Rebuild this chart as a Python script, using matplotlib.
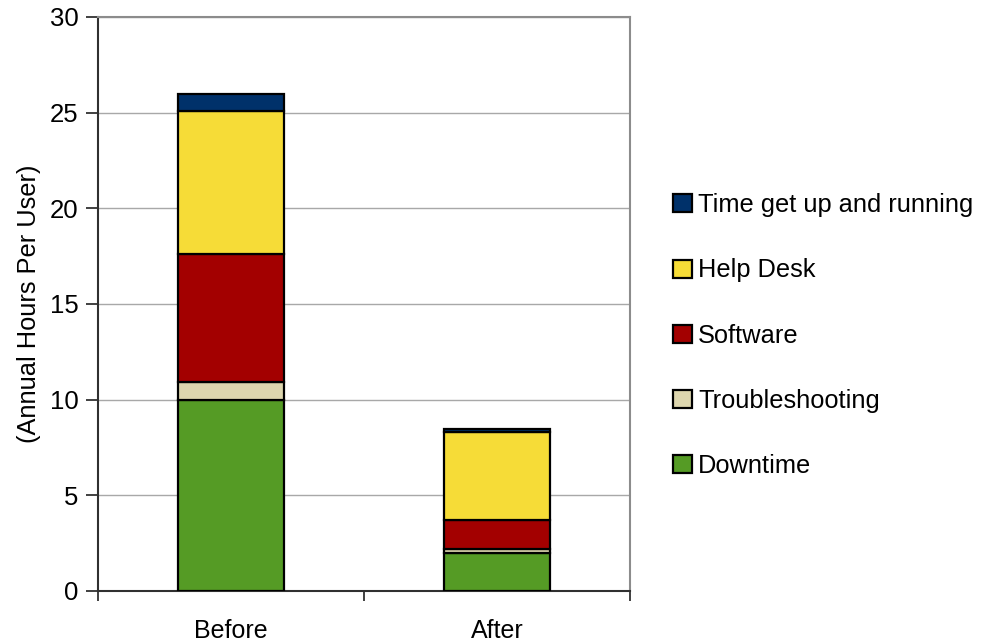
import matplotlib.pyplot as plt
import numpy as np

plt.rcParams["font.family"] = ["Liberation Sans", "DejaVu Sans"]

# stacked hours per user, bottom segment first
periods = ["Before", "After"]
series = ["Downtime", "Troubleshooting", "Software", "Help Desk", "Time get up and running"]
downtime = [10.0, 2.0]
troubleshooting = [0.9, 0.2]
software = [6.7, 1.5]
help_desk = [7.5, 4.6]
time_up = [0.9, 0.15]
colors = ["#559B25", "#DDD6AE", "#A30000", "#F6DC37", "#00316A"]

fig = plt.figure(figsize=(9.87, 6.43), dpi=100)
ax = fig.add_axes([0.0993, 0.081, 0.5390, 0.8926])

x = np.arange(len(periods))
bottom = np.zeros(len(periods))
handles = []
for name, vals, c in zip(series, [downtime, troubleshooting, software, help_desk, time_up], colors):
    b = ax.bar(x, vals, 0.4, bottom=bottom, color=c, edgecolor="black",
               linewidth=1.6, label=name, zorder=3)
    handles.append(b)
    bottom += np.array(vals)

ax.set_xlim(-0.5, 1.5)
ax.set_ylim(0, 30)
ax.set_yticks(range(0, 31, 5))
ax.yaxis.grid(True, color="#a8a8a8", linewidth=1.0, zorder=0)

# category labels centred, tick marks on the boundaries
ax.set_xticks([-0.5, 0.5, 1.5])
ax.set_xticklabels([])
ax.set_xticks(x, minor=True)
ax.set_xticklabels(periods, minor=True, fontsize=18)
ax.tick_params(axis="x", which="minor", length=0, pad=20)
ax.tick_params(axis="x", which="major", length=7, width=1.2, color="#202020")
ax.tick_params(axis="y", length=9, width=1.2, color="#202020", labelsize=18.5, pad=5)

for side in ["top", "right"]:
    ax.spines[side].set_color("#8c8c8c")
    ax.spines[side].set_linewidth(1.5)
for side in ["left", "bottom"]:
    ax.spines[side].set_color("#303030")
    ax.spines[side].set_linewidth(1.5)

ax.set_ylabel("(Annual Hours Per User)", fontsize=18.3, labelpad=6)

fig.legend(handles[::-1], series[::-1], loc="center left",
           bbox_to_anchor=(0.659, 0.478), frameon=False, fontsize=18.3,
           handlelength=0.72, handleheight=0.72, handletextpad=0.25,
           labelspacing=1.62)

fig.savefig("out.png", dpi=100)
